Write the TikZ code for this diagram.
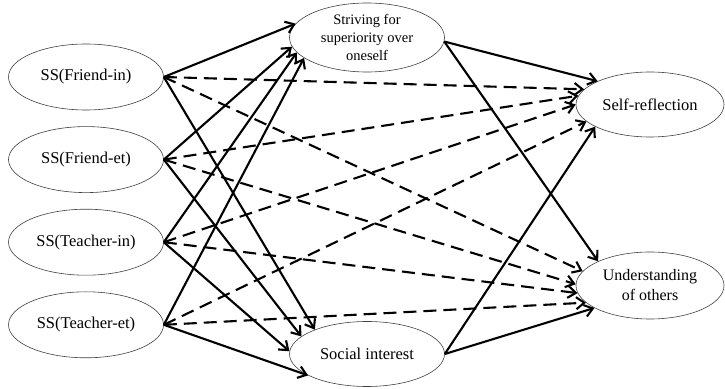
\documentclass[tikz,border=0pt]{standalone}
\usepackage{fontspec}
\setmainfont{Liberation Serif}
\usetikzlibrary{arrows.meta, positioning, shapes.geometric}

\begin{document}
\begin{tikzpicture}[
    x=1pt, y=1pt,
    node distance=16pt,
ell/.style  = {ellipse, draw=black!75, line width=0.6pt, minimum width=155pt,
               minimum height=66pt, inner sep=0pt, align=center,
               font=\fontsize{16.5}{20}\selectfont},
drct/.style = {line width=2.1pt, -{Straight Barb[length=8pt,width=12pt]}},
indr/.style = {drct, dash pattern=on 13pt off 7pt},
                        ]
\useasboundingbox (0,0) rectangle (725,388);
\node (fin) [ell] at (86,311)  {SS(Friend-in)};
\node (fet) [ell,below=of fin] {SS(Friend-et)};
\node (tin) [ell,below=of fet] {SS(Teacher-in)};
\node (tet) [ell,below=of tin] {SS(Teacher-et)};
%
\node (striv) [ell, minimum height=69pt, inner ysep=-8pt,
               font=\fontsize{14.5}{18}\selectfont] at (367,350.5)
               {Striving for\\superiority over\\oneself};
\node (soc)   [ell, minimum height=65pt] at (367,34) {Social interest};
\node (selfr) [ell, minimum width=148pt, minimum height=65pt] at (650,283.5)
               {Self-reflection};
\node (under) [ell, minimum width=148pt, minimum height=67pt,
               font=\fontsize{16}{20}\selectfont] at (650,102.5)
               {Understanding\\of others};
% predictors to mediators
\draw[drct] (fin.east) to (striv.169);
\draw[drct] (fet.east) to (striv.187);
\draw[drct] (tin.east) to (striv.192);
\draw[drct] (tet.east) to (striv.198);
\draw[drct] (fin.east) to (soc.155);
\draw[drct] (fet.east) to (soc.165);
\draw[drct] (tin.east) to (soc.178);
\draw[drct] (tet.east) to (soc.200);
% predictors to outcomes
\draw[indr] (fin.east) to (selfr.167);
\draw[indr] (fet.east) to (selfr.173);
\draw[indr] (tin.east) to (selfr.180);
\draw[indr] (tet.east) to (selfr.195);
\draw[indr] (fin.east) to (under.168);
\draw[indr] (fet.east) to (under.179);
\draw[indr] (tin.east) to (under.186);
\draw[indr] (tet.east) to (under.195);
% mediators to outcomes
\draw[drct] (striv.-3) to (selfr.156);
\draw[drct] (striv.-3) to (under.155);
\draw[drct] (soc.east) to (selfr.202);
\draw[drct] (soc.east) to (under.202);
    \end{tikzpicture}
\end{document}
